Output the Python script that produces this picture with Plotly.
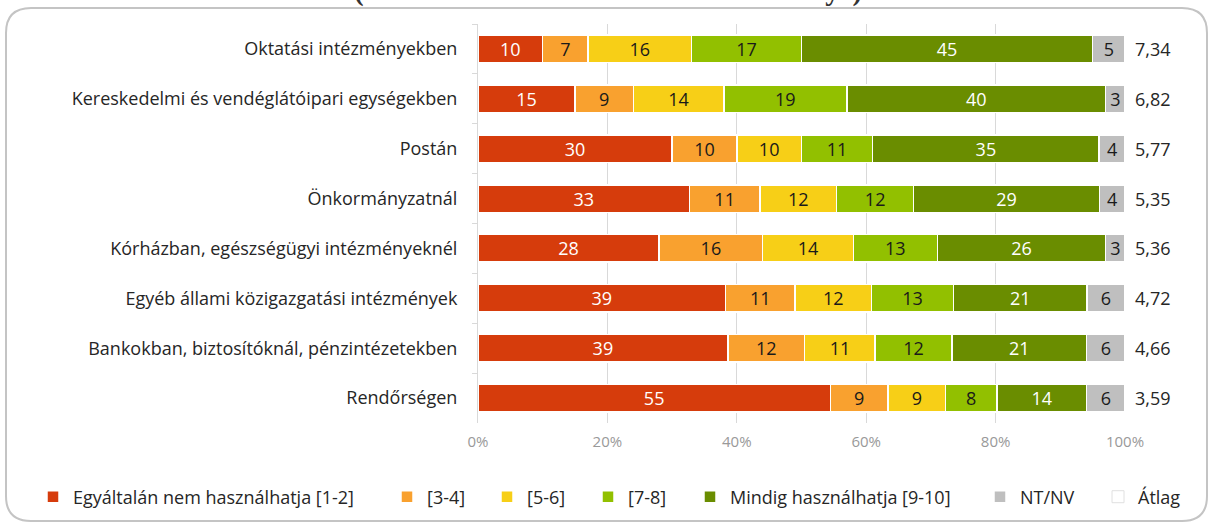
import plotly.graph_objects as go

categories = [
    "Oktatási intézményekben",
    "Kereskedelmi és vendéglátóipari egységekben",
    "Postán",
    "Önkormányzatnál",
    "Kórházban, egészségügyi intézményeknél",
    "Egyéb állami közigazgatási intézmények",
    "Bankokban, biztosítóknál, pénzintézetekben",
    "Rendőrségen",
]
series_names = [
    "Egyáltalán nem használhatja [1-2]",
    "[3-4]",
    "[5-6]",
    "[7-8]",
    "Mindig használhatja [9-10]",
    "NT/NV",
]
v_1_2 = [10, 15, 30, 33, 28, 39, 39, 55]
v_3_4 = [7, 9, 10, 11, 16, 11, 12, 9]
v_5_6 = [16, 14, 10, 12, 14, 12, 11, 9]
v_7_8 = [17, 19, 11, 12, 13, 13, 12, 8]
v_9_10 = [45, 40, 35, 29, 26, 21, 21, 14]
v_ntnv = [5, 3, 4, 4, 3, 6, 6, 6]
averages = ["7,34", "6,82", "5,77", "5,35", "5,36", "4,72", "4,66", "3,59"]
tick_vals = [0, 20, 40, 60, 80, 100]
tick_text = ["0%", "20%", "40%", "60%", "80%", "100%"]

colors = ["#D63C0C", "#F9A12F", "#F7CF17", "#92C000", "#6A8D00", "#BFBFBF"]
text_colors = ["white", "#1a1a1a", "#1a1a1a", "#1a1a1a", "white", "#1a1a1a"]
all_values = [v_1_2, v_3_4, v_5_6, v_7_8, v_9_10, v_ntnv]

FONT = "Open Sans"
FS = 18

W, H = 1210, 523
L, R, T, B = 478, 85, 24, 100
pw, ph = W - L - R, H - T - B


def px(x):
    return (x - L) / pw


def py(y):
    return (H - B - y) / ph


# legend text start positions (pixels) in the reference
legend_text_x = [68, 422, 522, 623, 725, 1015, 1133]
legend_ids = ["legend"] + [f"legend{i}" for i in range(2, 8)]

fig = go.Figure()
for i, (name, vals, col, tcol) in enumerate(zip(series_names, all_values, colors, text_colors)):
    fig.add_trace(go.Bar(
        y=categories, x=vals, name=name, orientation="h",
        marker=dict(color=col, line=dict(color="white", width=1.5)),
        text=[str(v) for v in vals], texttemplate="%{text}",
        textposition="inside", insidetextanchor="middle", textangle=0,
        textfont=dict(color=tcol, size=FS, family=FONT),
        hoverinfo="skip", legend=legend_ids[i],
    ))

# legend-only entry for average
fig.add_trace(go.Bar(
    y=[None], x=[None], name="Átlag", orientation="h",
    marker=dict(color="white", line=dict(color="#e0e0e0", width=1)),
    showlegend=True, hoverinfo="skip", legend=legend_ids[6],
))

for cat, avg in zip(categories, averages):
    fig.add_annotation(x=100, y=cat, xref="x", yref="y", text=avg,
                       showarrow=False, xanchor="left", xshift=8,
                       font=dict(size=FS, family=FONT, color="#262626"))

x0, x1, y0, y1, r = 6, 1207, 8, 521, 25
path = (
    f"M {px(x0)},{py(y0 + r)} "
    f"Q {px(x0)},{py(y0)} {px(x0 + r)},{py(y0)} "
    f"L {px(x1 - r)},{py(y0)} "
    f"Q {px(x1)},{py(y0)} {px(x1)},{py(y0 + r)} "
    f"L {px(x1)},{py(y1 - r)} "
    f"Q {px(x1)},{py(y1)} {px(x1 - r)},{py(y1)} "
    f"L {px(x0 + r)},{py(y1)} "
    f"Q {px(x0)},{py(y1)} {px(x0)},{py(y1 - r)} Z"
)
fig.add_shape(type="path", path=path, xref="paper", yref="paper",
              line=dict(color="#C4C4C4", width=2), layer="below")

fig.add_annotation(x=px(608), y=py(9), xref="paper", yref="paper",
                   text="<b>(Határmentén élő válaszadók véleménye)</b>",
                   showarrow=False, xanchor="center", yanchor="bottom",
                   font=dict(family="Liberation Serif", size=29, color="#333333"))

legend_layouts = {}
for lid, tx in zip(legend_ids, legend_text_x):
    legend_layouts[lid] = dict(
        orientation="h", xref="paper", yref="paper",
        x=px(tx - 35), xanchor="left", y=py(497), yanchor="middle",
        font=dict(size=FS, family=FONT, color="#262626"),
        itemwidth=30, bgcolor="rgba(0,0,0,0)", borderwidth=0,
    )

fig.update_layout(
    width=W, height=H,
    margin=dict(l=L, r=R, t=T, b=B, autoexpand=False),
    barmode="stack", barnorm="percent", bargap=0.45,
    plot_bgcolor="white", paper_bgcolor="white",
    font=dict(family=FONT, size=FS, color="#262626"),
    uniformtext=dict(minsize=FS, mode="show"),
    showlegend=True,
    xaxis=dict(range=[0, 100], tickvals=tick_vals, ticktext=tick_text,
               showgrid=True, gridcolor="#D9D9D9", gridwidth=1, zeroline=False,
               tickfont=dict(size=15, color="#999999", family=FONT),
               showline=False, ticks="", ticklabelstandoff=8),
    yaxis=dict(autorange="reversed", showline=True, linecolor="#D9D9D9", linewidth=1,
               ticks="outside", tickson="boundaries", ticklen=5, tickcolor="#D9D9D9",
               tickfont=dict(size=FS, family=FONT, color="#262626"),
               ticklabelstandoff=16),
    **legend_layouts,
)

fig.write_html("out.html", config={"displayModeBar": False},
               post_script="document.body.style.margin='0px';")
